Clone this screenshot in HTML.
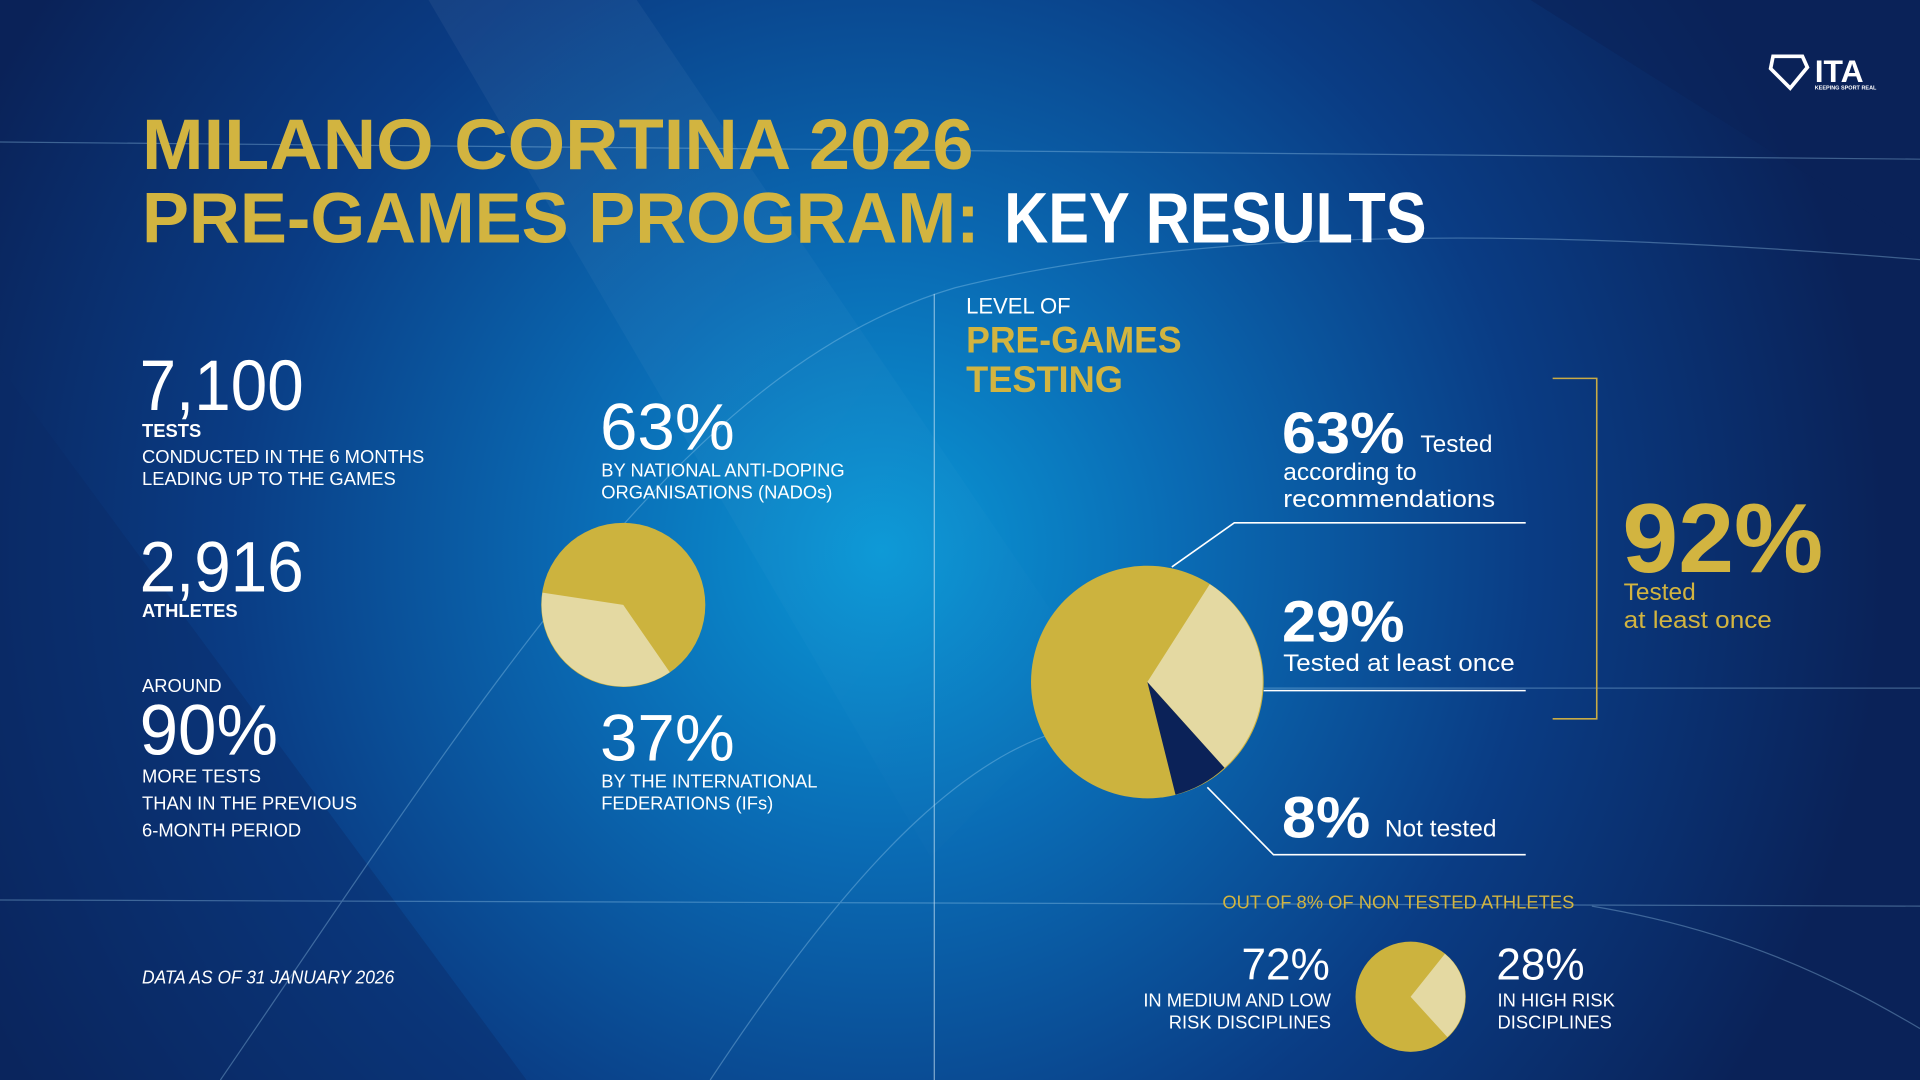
<!DOCTYPE html>
<html><head><meta charset="utf-8"><style>
html,body{margin:0;padding:0;width:1920px;height:1080px;overflow:hidden;background:#0a2a63}
svg{display:block}
text{font-family:"Liberation Sans",sans-serif}
</style></head><body>
<svg width="1920" height="1080" viewBox="0 0 1568 882" preserveAspectRatio="none" xmlns="http://www.w3.org/2000/svg">
<defs>
<radialGradient id="bg" cx="720" cy="450" r="820" gradientUnits="userSpaceOnUse">
<stop offset="0" stop-color="#0a98d6"/>
<stop offset="0.3" stop-color="#0a6bb4"/>
<stop offset="0.65" stop-color="#0a3c84"/>
<stop offset="1" stop-color="#0a2258"/>
</radialGradient>
<linearGradient id="band" x1="0" y1="0" x2="1" y2="1">
<stop offset="0" stop-color="#ffffff" stop-opacity="0.05"/>
<stop offset="1" stop-color="#ffffff" stop-opacity="0"/>
</linearGradient>
</defs>
<rect width="1568" height="882" fill="url(#bg)"/>
<polygon points="350,0 520,0 900,560 760,700" fill="url(#band)"/>
<polygon points="0,300 0,882 430,882" fill="#0a2a66" opacity="0.4"/>
<polygon points="1250,0 1568,0 1568,200" fill="#0a2258" opacity="0.5"/>
<g stroke="#9fd0f0" stroke-width="1" fill="none" opacity="0.35">
<line x1="0" y1="116" x2="1568" y2="130"/>
<line x1="0" y1="735" x2="1568" y2="740"/>
<line x1="1032" y1="562" x2="1568" y2="562"/>
<path d="M180,882 C400,560 560,300 780,235 C1000,180 1300,190 1568,212"/>
<path d="M580,882 C700,700 800,600 900,590"/>
<path d="M1300,740 C1420,760 1500,800 1568,840"/>
</g>
<line x1="763" y1="240" x2="763" y2="882" stroke="#cfe6f5" stroke-width="1" opacity="0.6"/>
<path d="M1448,46 L1472,46 L1476,55 L1462,72 L1446,56 Z" fill="none" stroke="#fff" stroke-width="3"/>
<text x="1482" y="67" fill="#fff" font-size="26" font-weight="bold">ITA</text>
<text x="1482" y="73" fill="#fff" font-size="4.5" font-weight="bold">KEEPING SPORT REAL</text>
<text x="116" y="138" fill="#d2b440" font-size="58" font-weight="bold" textLength="679" lengthAdjust="spacingAndGlyphs">MILANO CORTINA 2026</text>
<text x="116" y="198" fill="#d2b440" font-size="58" font-weight="bold" textLength="684" lengthAdjust="spacingAndGlyphs">PRE-GAMES PROGRAM:</text>
<text x="820" y="198" fill="#fff" font-size="58" font-weight="bold" textLength="345" lengthAdjust="spacingAndGlyphs">KEY RESULTS</text>
<g fill="#fff">
<text x="114" y="335" font-size="58" textLength="134" lengthAdjust="spacingAndGlyphs">7,100</text>
<text x="116" y="357" font-size="15" font-weight="bold">TESTS</text>
<text x="116" y="378" font-size="15">CONDUCTED IN THE 6 MONTHS</text>
<text x="116" y="396" font-size="15">LEADING UP TO THE GAMES</text>
<text x="114" y="483" font-size="58" textLength="134" lengthAdjust="spacingAndGlyphs">2,916</text>
<text x="116" y="504" font-size="15" font-weight="bold">ATHLETES</text>
<text x="116" y="565" font-size="15">AROUND</text>
<text x="114" y="616" font-size="58" textLength="113" lengthAdjust="spacingAndGlyphs">90%</text>
<text x="116" y="639" font-size="15">MORE TESTS</text>
<text x="116" y="661" font-size="15">THAN IN THE PREVIOUS</text>
<text x="116" y="683" font-size="15">6-MONTH PERIOD</text>
<text x="116" y="803" font-size="15" font-style="italic" textLength="206" lengthAdjust="spacingAndGlyphs">DATA AS OF 31 JANUARY 2026</text>
<text x="490" y="367" font-size="54" textLength="110" lengthAdjust="spacingAndGlyphs">63%</text>
<text x="491" y="389" font-size="15">BY NATIONAL ANTI-DOPING</text>
<text x="491" y="407" font-size="15">ORGANISATIONS (NADOs)</text>
<text x="490" y="621" font-size="54" textLength="110" lengthAdjust="spacingAndGlyphs">37%</text>
<text x="491" y="643" font-size="15">BY THE INTERNATIONAL</text>
<text x="491" y="661" font-size="15">FEDERATIONS (IFs)</text>
</g>
<circle cx="509" cy="494" r="67" fill="#ccb33e"/>
<path d="M509,494 L547,549 A67,67 0 0,1 443,484 Z" fill="#e4d9a2"/>
<text x="789" y="256" fill="#fff" font-size="18">LEVEL OF</text>
<text x="789" y="288" fill="#d2b440" font-size="30" font-weight="bold" textLength="176" lengthAdjust="spacingAndGlyphs">PRE-GAMES</text>
<text x="789" y="320" fill="#d2b440" font-size="30" font-weight="bold" textLength="128" lengthAdjust="spacingAndGlyphs">TESTING</text>
<g stroke="#fff" stroke-width="1.3" fill="none">
<polyline points="957,463 1008,427 1246,427"/>
<line x1="1032" y1="564" x2="1246" y2="564"/>
<polyline points="986,643 1040,698 1246,698"/>
</g>
<polyline points="1268,309 1304,309 1304,587 1268,587" stroke="#c9ab45" stroke-width="1.3" fill="none"/>
<circle cx="937" cy="557" r="95" fill="#ccb33e"/>
<path d="M937,557 L988,477 A95,95 0 0,1 1000,627 Z" fill="#e4d9a2"/>
<path d="M937,557 L1000,627 A95,95 0 0,1 960,649 Z" fill="#0b2258"/>
<g fill="#fff">
<text x="1047" y="370" font-size="48" font-weight="bold" textLength="100" lengthAdjust="spacingAndGlyphs">63%</text>
<text x="1160" y="369" font-size="20">Tested</text>
<text x="1048" y="392" font-size="20">according to</text>
<text x="1048" y="414" font-size="20" textLength="173" lengthAdjust="spacingAndGlyphs">recommendations</text>
<text x="1047" y="524" font-size="48" font-weight="bold" textLength="100" lengthAdjust="spacingAndGlyphs">29%</text>
<text x="1048" y="548" font-size="20" textLength="189" lengthAdjust="spacingAndGlyphs">Tested at least once</text>
<text x="1047" y="684" font-size="48" font-weight="bold" textLength="72" lengthAdjust="spacingAndGlyphs">8%</text>
<text x="1131" y="683" font-size="20">Not tested</text>
</g>
<text x="1325" y="467" fill="#d2b440" font-size="80" font-weight="bold" textLength="164" lengthAdjust="spacingAndGlyphs">92%</text>
<text x="1326" y="490" fill="#d2b440" font-size="20">Tested</text>
<text x="1326" y="513" fill="#d2b440" font-size="20" textLength="121" lengthAdjust="spacingAndGlyphs">at least once</text>
<text x="1142" y="742" fill="#d2b440" font-size="15" text-anchor="middle">OUT OF 8% OF NON TESTED ATHLETES</text>
<g fill="#fff">
<text x="1086" y="800" font-size="36" text-anchor="end">72%</text>
<text x="1087" y="822" font-size="15" text-anchor="end">IN MEDIUM AND LOW</text>
<text x="1087" y="840" font-size="15" text-anchor="end">RISK DISCIPLINES</text>
<text x="1222" y="800" font-size="36">28%</text>
<text x="1223" y="822" font-size="15">IN HIGH RISK</text>
<text x="1223" y="840" font-size="15">DISCIPLINES</text>
</g>
<circle cx="1152" cy="814" r="45" fill="#ccb33e"/>
<path d="M1152,814 L1180,779 A45,45 0 0,1 1182,847 Z" fill="#e4d9a2"/>
</svg>
</body></html>
